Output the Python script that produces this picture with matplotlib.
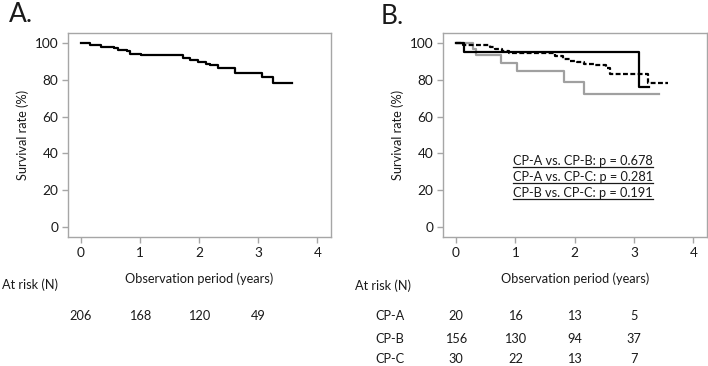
import numpy as np
import matplotlib
matplotlib.use("Agg")
import matplotlib.pyplot as plt
import matplotlib.transforms as mtransforms
from matplotlib.lines import Line2D

plt.rcParams['font.family'] = ['Lato', 'DejaVu Sans']

# overall survival (panel A), step points: (time in years, survival %)
all_t = [0, 0.15, 0.34, 0.55, 0.63, 0.77, 0.83, 1.02, 1.73, 1.84, 1.98, 2.12, 2.18, 2.32, 2.6, 3.07, 3.25, 3.57]
all_s = [100, 99.0, 97.7, 97.3, 96.4, 95.4, 94.2, 93.2, 91.8, 90.5, 89.5, 88.6, 87.9, 86.2, 83.5, 81.6, 78.0, 78.0]

# panel B, by Child-Pugh class
cpa_t = [0, 0.14, 3.08, 3.26]
cpa_s = [100, 95.0, 76.0, 76.0]
cpb_t = [0, 0.12, 0.57, 0.66, 0.77, 0.9, 1.67, 1.8, 1.92, 2.04, 2.15, 2.35, 2.52, 2.6, 3.24, 3.57]
cpb_s = [100, 98.8, 97.6, 96.6, 95.4, 94.4, 93.0, 91.3, 90.3, 89.6, 88.8, 87.8, 86.5, 83.4, 78.5, 78.5]
cpc_t = [0, 0.28, 0.34, 0.76, 1.03, 1.82, 2.15, 3.42]
cpc_s = [100, 96.7, 93.3, 88.9, 85.0, 78.8, 72.5, 72.5]

pvals = ["CP-A vs. CP-B: p = 0.678", "CP-A vs. CP-C: p = 0.281", "CP-B vs. CP-C: p = 0.191"]

risk_times = [0, 1, 2, 3]
risk_all = [206, 168, 120, 49]
risk_groups = ["CP-A", "CP-B", "CP-C"]
risk_cpa = [20, 16, 13, 5]
risk_cpb = [156, 130, 94, 37]
risk_cpc = [30, 22, 13, 7]

W, H = 708, 366
FS = 9.2
TXT = "#1a1a1a"
fig = plt.figure(figsize=(W / 100, H / 100), dpi=100)


def fy(py):
    return 1 - py / H


def fx(px):
    return px / W


def style_axes(ax):
    ax.set_xlim(-0.22, 4.23)
    ax.set_ylim(-5.4, 105.4)
    ax.set_xticks([0, 1, 2, 3, 4])
    ax.set_yticks([0, 20, 40, 60, 80, 100])
    for sp in ax.spines.values():
        sp.set_color("#a6a6a6")
        sp.set_linewidth(1.0)
    ax.tick_params(direction="out", length=4, width=1.0, color="#a6a6a6",
                   labelsize=FS + 0.6, labelcolor=TXT, pad=3)
    ax.set_ylabel("Survival rate (%)", fontsize=FS, color=TXT, labelpad=4)
    ax.set_xlabel("Observation period (years)", fontsize=FS, color=TXT, labelpad=10)


axA = fig.add_axes([fx(68), fy(237), fx(331 - 68), (237 - 33) / H])
axB = fig.add_axes([fx(443), fy(237), fx(707 - 443), (237 - 33) / H])
style_axes(axA)
style_axes(axB)

axA.step(all_t, all_s, where="post", color="black", lw=1.6)

axB.step(cpc_t, cpc_s, where="post", color="#a0a0a0", lw=1.6)
axB.step(cpa_t, cpa_s, where="post", color="black", lw=1.6)
axB.step(cpb_t, cpb_s, where="post", color="black", lw=1.6, linestyle=(0, (2.2, 1.1)))

fig.text(fx(9), fy(15), "A.", fontsize=19, va="center", ha="left", color=TXT)
fig.text(fx(381), fy(16), "B.", fontsize=19, va="center", ha="left", color=TXT)

# p-values, underlined
p_texts = []
for i, s in enumerate(pvals):
    t = fig.text(fx(513), fy(161 + 16 * i), s, fontsize=FS, ha="left", va="center", color=TXT)
    p_texts.append(t)

# at-risk table
fig.text(fx(2), fy(285), "At risk (N)", fontsize=FS, ha="left", va="center", color=TXT)
fig.text(fx(355), fy(286), "At risk (N)", fontsize=FS, ha="left", va="center", color=TXT)

trA = mtransforms.blended_transform_factory(axA.transData, fig.transFigure)
trB = mtransforms.blended_transform_factory(axB.transData, fig.transFigure)
for t, n in zip(risk_times, risk_all):
    fig.text(t, fy(316), str(n), transform=trA, fontsize=FS, ha="center", va="center", color=TXT)

rows_y = [316, 339, 359]
for g, vals, ry in zip(risk_groups, [risk_cpa, risk_cpb, risk_cpc], rows_y):
    fig.text(fx(390), fy(ry), g, fontsize=FS, ha="center", va="center", color=TXT)
    for t, n in zip(risk_times, vals):
        fig.text(t, fy(ry), str(n), transform=trB, fontsize=FS, ha="center", va="center", color=TXT)

fig.canvas.draw()
r = fig.canvas.get_renderer()
for t in p_texts:
    bb = t.get_window_extent(r).transformed(fig.transFigure.inverted())
    fig.add_artist(Line2D([bb.x0, bb.x1], [bb.y0 + 0.001, bb.y0 + 0.001],
                          transform=fig.transFigure, color=TXT, lw=0.9))

fig.savefig("out.png", dpi=100)
